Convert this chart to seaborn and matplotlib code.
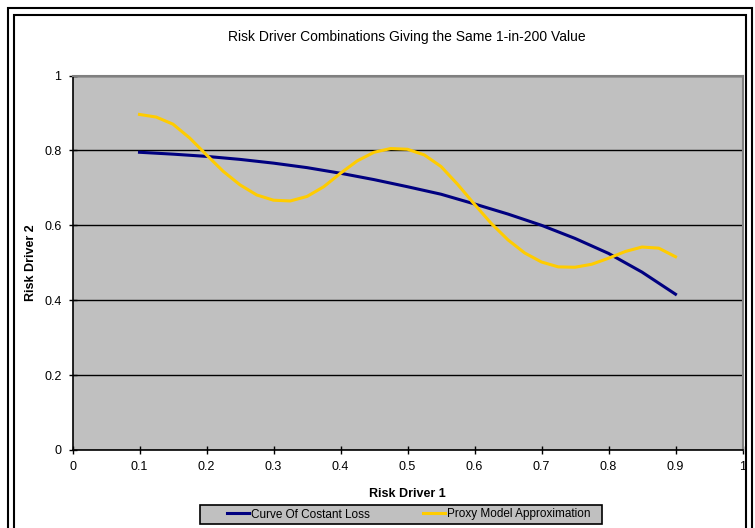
import matplotlib
matplotlib.use("Agg")
import matplotlib.pyplot as plt
import seaborn as sns
import pandas as pd
from matplotlib.patches import Rectangle

# data
loss_x = [0.10, 0.15, 0.20, 0.25, 0.30, 0.35, 0.40, 0.45, 0.50,
          0.55, 0.60, 0.65, 0.70, 0.75, 0.80, 0.85, 0.90]
loss_y = [0.795, 0.790, 0.784, 0.776, 0.766, 0.754, 0.739, 0.722, 0.703,
          0.683, 0.657, 0.630, 0.600, 0.565, 0.525, 0.475, 0.416]

proxy_x = [0.100, 0.125, 0.150, 0.175, 0.200, 0.225, 0.250, 0.275, 0.300,
           0.325, 0.350, 0.375, 0.400, 0.425, 0.450, 0.475, 0.500, 0.525,
           0.550, 0.575, 0.600, 0.625, 0.650, 0.675, 0.700, 0.725, 0.750,
           0.775, 0.800, 0.825, 0.850, 0.875, 0.900]
proxy_y = [0.896, 0.889, 0.870, 0.833, 0.788, 0.744, 0.708, 0.681, 0.667,
           0.665, 0.677, 0.703, 0.739, 0.772, 0.795, 0.805, 0.803, 0.788,
           0.757, 0.709, 0.656, 0.605, 0.561, 0.526, 0.502, 0.489, 0.488,
           0.496, 0.512, 0.530, 0.542, 0.539, 0.516]

labels = ["Curve Of Costant Loss", "Proxy Model Approximation"]

df = pd.concat([
    pd.DataFrame({"x": loss_x, "y": loss_y, "series": labels[0]}),
    pd.DataFrame({"x": proxy_x, "y": proxy_y, "series": labels[1]}),
])

plt.rcParams["font.family"] = ["Liberation Sans", "DejaVu Sans"]

W, H = 755, 528
fig = plt.figure(figsize=(W / 100, H / 100), dpi=100)
ax = fig.add_axes([72.5 / W, 1 - 450 / H, 670 / W, 374.5 / H])
ax.set_facecolor("#C0C0C0")

sns.lineplot(data=df, x="x", y="y", hue="series", sort=False,
             palette={labels[0]: "#000080", labels[1]: "#FFCC00"},
             linewidth=2.2, ax=ax)

ax.set_xlim(0, 1)
ax.set_ylim(0, 1)
ax.set_xticks([i / 10 for i in range(11)])
ax.set_xticklabels(["0", "0.1", "0.2", "0.3", "0.4", "0.5", "0.6", "0.7", "0.8", "0.9", "1"])
ax.set_yticks([0, 0.2, 0.4, 0.6, 0.8, 1])
ax.set_yticklabels(["0", "0.2", "0.4", "0.6", "0.8", "1"])
ax.yaxis.grid(True, color="black", linewidth=1)
ax.set_axisbelow(True)
ax.tick_params(direction="inout", length=6, width=1, labelsize=9, pad=5)

for s in ["top", "right"]:
    ax.spines[s].set_color("#808080")
    ax.spines[s].set_linewidth(1.5)
for s in ["left", "bottom"]:
    ax.spines[s].set_color("black")
    ax.spines[s].set_linewidth(1.2)

ax.set_xlabel("Risk Driver 1", fontsize=9, fontweight="bold", labelpad=11)
ax.set_ylabel("Risk Driver 2", fontsize=9, fontweight="bold", labelpad=5)
fig.text(407 / W, 1 - 37 / H, "Risk Driver Combinations Giving the Same 1-in-200 Value",
         ha="center", va="center", fontsize=10)

# legend box drawn separately (behind the legend) so its size matches the reference
fig.patches.append(Rectangle((200 / W, 1 - 524 / H), 402 / W, 19 / H, transform=fig.transFigure,
                             facecolor="#C0C0C0", edgecolor="black", linewidth=1.2, zorder=-1))
leg = ax.legend(loc="center", bbox_to_anchor=(409 / W, 1 - 514.5 / H),
                bbox_transform=fig.transFigure, ncol=2, fontsize=8.5,
                frameon=False, handlelength=1.85,
                columnspacing=4.5, borderpad=0.1, handletextpad=0.2)

# double frame round the chart
fig.patches.append(Rectangle((8 / W, -0.05), 744 / W, 1 + 0.05 - 8 / H, transform=fig.transFigure,
                             fill=False, edgecolor="black", linewidth=1.5))
fig.patches.append(Rectangle((14 / W, -0.05), 732 / W, 1 + 0.05 - 15 / H, transform=fig.transFigure,
                             fill=False, edgecolor="black", linewidth=1.5))

fig.savefig("out.png", dpi=100)
